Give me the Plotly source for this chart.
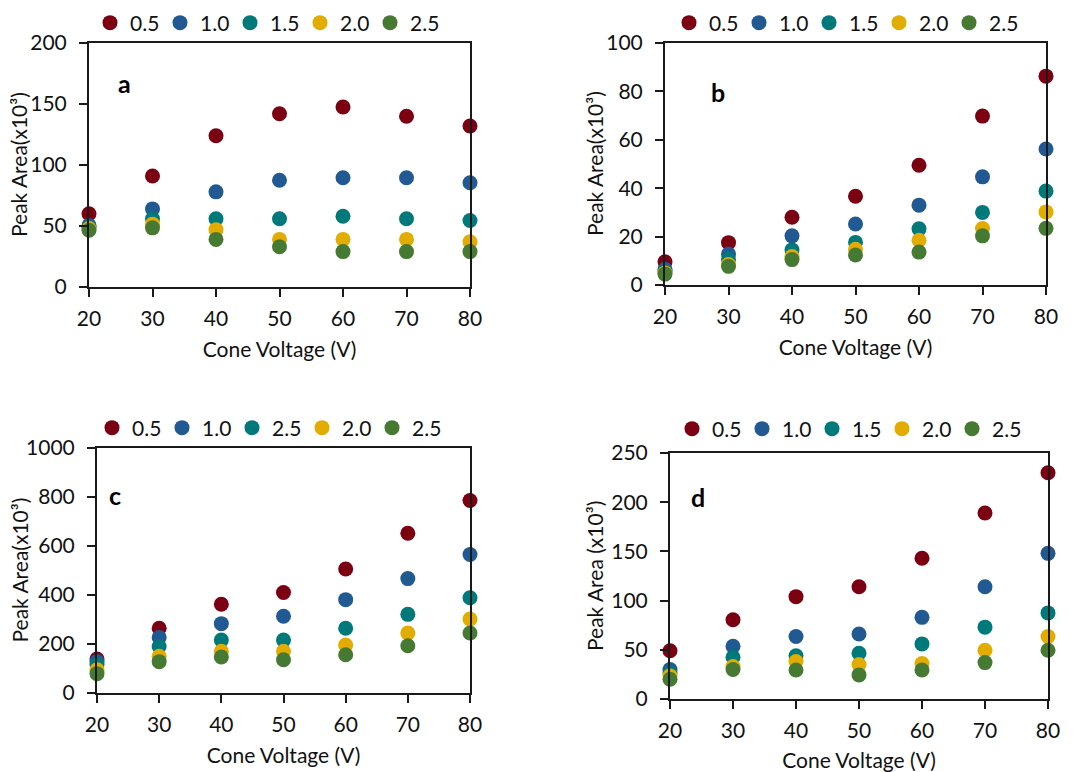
import plotly.graph_objects as go

cone_voltage = [20, 30, 40, 50, 60, 70, 80]

names_abd = ["0.5", "1.0", "1.5", "2.0", "2.5"]
names_c = ["0.5", "1.0", "2.5", "2.0", "2.5"]

colors = ["#7B0012", "#215A93", "#00797A", "#E2AC00", "#467A32"]

a_values = [
    [60, 91, 124, 142, 147.5, 140, 132],
    [50.5, 64, 78, 87.5, 89.5, 89.5, 85.5],
    [49, 56, 56, 56, 58, 56, 54.5],
    [48, 51.5, 47, 39, 39, 39, 37],
    [46.5, 48.5, 39, 33, 29, 29, 29],
]
b_values = [
    [9.6, 17.5, 28, 36.7, 49.5, 69.8, 86.3],
    [6.5, 12.8, 20.3, 25.2, 33, 44.7, 56.2],
    [5.5, 10.6, 14.5, 17.6, 23.2, 30, 38.8],
    [5, 8.5, 11.8, 14.8, 18.5, 23.3, 30.2],
    [4.5, 7.7, 10.5, 12.4, 13.6, 20.3, 23.4],
]
c_values = [
    [139, 264, 362, 410, 506, 652, 786],
    [129, 227, 283, 313, 381, 467, 565],
    [116, 190, 216, 216, 264, 321, 389],
    [95, 150, 170, 170, 196, 245, 302],
    [79, 128, 147, 136, 156, 193, 245],
]
d_values = [
    [49, 80.5, 104, 114, 143, 189, 230],
    [30, 53.5, 63.5, 66, 83, 114, 148],
    [26.5, 42.5, 44, 46.5, 56, 73, 87.5],
    [23.5, 33, 38, 35, 36, 49.5, 63.5],
    [20, 30, 29.5, 24.5, 29.5, 37, 49.5],
]

panel_labels = ["a", "b", "c", "d"]
y_titles = ["Peak Area(x10³)", "Peak Area(x10³)", "Peak Area(x10³)", "Peak Area (x10³)"]
y_ranges = [[0, 200], [0, 100], [0, 1000], [0, 250]]
y_dticks = [50, 20, 200, 50]
x_title = "Cone Voltage (V)"

W, H = 1076, 772
FONT = "Lato"
FS = 21

# pixel boxes: left, right, top, bottom
boxes = [(89, 470, 43, 287), (665, 1046, 43, 285), (97, 470, 448, 693), (670, 1048, 453, 699)]
legend_pos = [(110, 23), (689, 23), (112, 428), (692, 429)]
ytitle_x = [19, 595, 19, 594]
label_px = [(124, 83), (718, 92), (115, 495), (698, 497)]

fig = go.Figure()
all_values = [a_values, b_values, c_values, d_values]
all_names = [names_abd, names_abd, names_c, names_abd]

for p in range(4):
    sfx = "" if p == 0 else str(p + 1)
    lg = "legend" if p == 0 else "legend" + str(p + 1)
    for s in range(5):
        fig.add_trace(go.Scatter(
            x=cone_voltage, y=all_values[p][s], mode="markers",
            name=all_names[p][s],
            marker=dict(color=colors[s], size=15),
            xaxis="x" + sfx, yaxis="y" + sfx, legend=lg,
            showlegend=True, cliponaxis=False,
        ))
    l, r, t, b = boxes[p]
    xd = [l / W, r / W]
    yd = [1 - b / H, 1 - t / H]
    axis_common = dict(
        showline=True, linecolor="#1a1a1a", linewidth=2, mirror=True,
        ticks="outside", ticklen=8, tickwidth=2, tickcolor="#1a1a1a",
        showgrid=False, zeroline=False, automargin=True,
        tickfont=dict(family=FONT, size=FS, color="#111"),
    )
    fig.layout["xaxis" + sfx] = dict(
        domain=xd, anchor="y" + sfx, range=[20, 80], dtick=10,
        title=dict(text=x_title, font=dict(family=FONT, size=FS, color="#111"), standoff=13),
        ticklabelstandoff=4,
        **axis_common,
    )
    fig.layout["yaxis" + sfx] = dict(
        domain=yd, anchor="x" + sfx, range=y_ranges[p], dtick=y_dticks[p],
        ticklabelstandoff=8,
        **axis_common,
    )
    lx, ly = legend_pos[p]
    fig.layout[lg] = dict(
        orientation="h", x=(lx - 20) / W, y=1 - ly / H, xanchor="left", yanchor="middle",
        font=dict(family=FONT, size=21, color="#111"), bgcolor="rgba(0,0,0,0)",
        itemwidth=30, tracegroupgap=0, entrywidth=25, entrywidthmode="pixels",
        borderwidth=0,
    )
    px, py = label_px[p]
    fig.add_annotation(
        text="<b>" + panel_labels[p] + "</b>", xref="x" + sfx + " domain", yref="y" + sfx + " domain",
        x=(px - l) / (r - l), y=(b - py) / (b - t), showarrow=False,
        xanchor="center", yanchor="middle",
        font=dict(family=FONT, size=25, color="#000"),
    )
    # y-axis title as rotated text beside the axis
    fig.add_annotation(
        text=y_titles[p], xref="paper", yref="y" + sfx + " domain",
        x=ytitle_x[p] / W, y=0.5, textangle=-90, showarrow=False,
        xanchor="center", yanchor="middle",
        font=dict(family=FONT, size=FS, color="#111"),
    )

fig.update_layout(
    width=W, height=H, autosize=False,
    margin=dict(l=0, r=0, t=0, b=0, autoexpand=False),
    paper_bgcolor="white", plot_bgcolor="white",
    font=dict(family=FONT, size=FS, color="#111"),
)

fig.write_html("out.html")
